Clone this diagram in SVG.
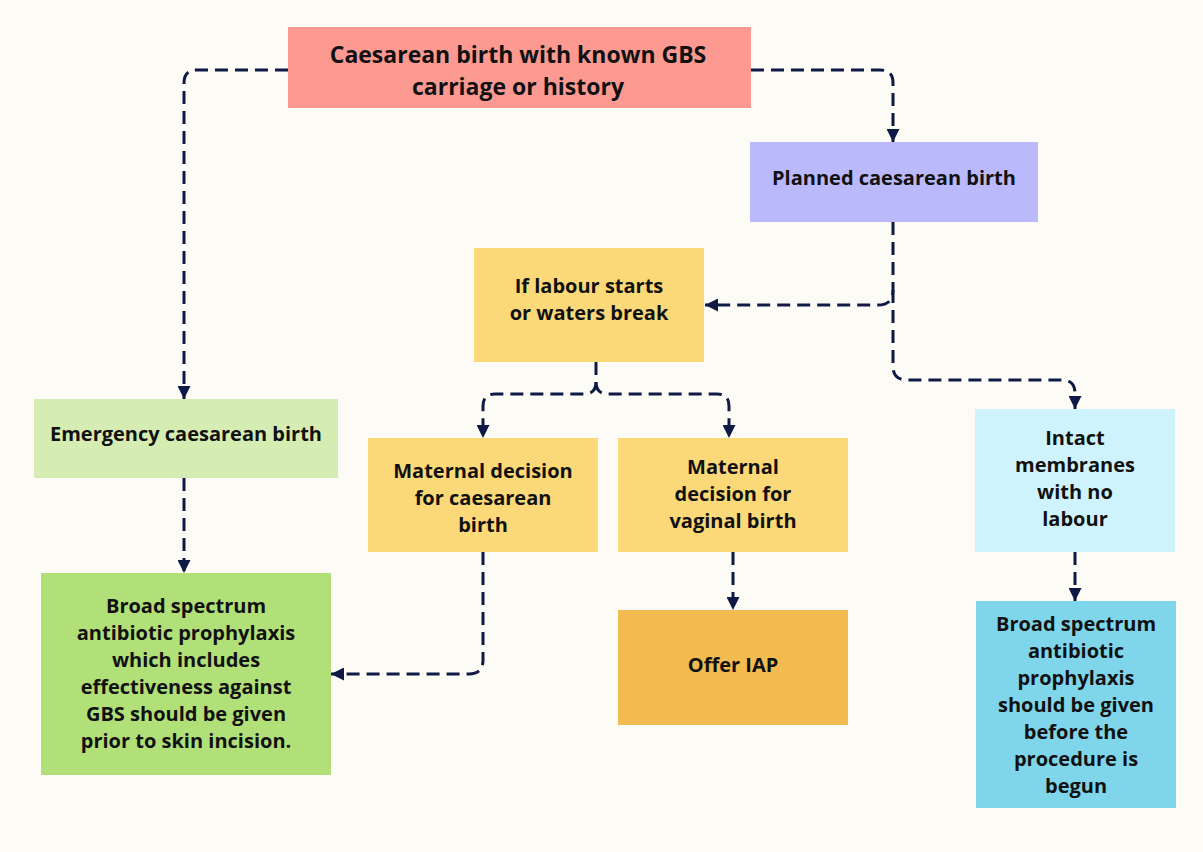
<svg xmlns="http://www.w3.org/2000/svg" width="1203" height="852" viewBox="0 0 1203 852">
  <defs>
    <marker id="arrow" viewBox="0 0 10 10" refX="10" refY="5" markerWidth="13" markerHeight="13" markerUnits="userSpaceOnUse" orient="auto">
      <path d="M0,0 L10,5 L0,10 z" fill="#0E1A45"/>
    </marker>
    <style>
      .bg { fill: #FDFBF6; }
      .box { stroke: none; }
      .lbl { font-family: "Open Sans", Lato, "Liberation Sans", sans-serif; font-weight: 700; fill: #111; text-anchor: middle; font-size: 20px; }
      .big { font-size: 23px; }
      .link { fill: none; stroke: #0E1A45; stroke-width: 3; stroke-dasharray: 13 7; }
      .arr { marker-end: url(#arrow); }
    </style>
  </defs>
  <rect class="bg" x="0" y="0" width="1203" height="852"/>

  <!-- connectors -->
  <g id="connectors">
    <path class="link arr" d="M288,70 H197 Q184,70 184,83 V399"/>
    <path class="link arr" d="M751,70 H880 Q893,70 893,83 V142"/>
    <path class="link arr" d="M893,222 V290 Q893,305 878,305 H705"/>
    <path class="link arr" d="M893,290 V366 Q893,380 907,380 H1062 Q1075,380 1075,393 V409"/>
    <path class="link arr" d="M596,362 V382 Q596,394 584,394 H495 Q483,394 483,406 V438"/>
    <path class="link arr" d="M596,382 Q596,394 608,394 H717 Q729,394 729,406 V438"/>
    <path class="link arr" d="M483,552 V660 Q483,674 469,674 H331"/>
    <path class="link arr" d="M184,478 V573"/>
    <path class="link arr" d="M733,552 V610"/>
    <path class="link arr" d="M1075,552 V601"/>
  </g>

  <g id="start">
    <rect class="box" x="288" y="27" width="463" height="81" fill="#FC9A92"/>
    <text class="lbl big" x="518" y="63">Caesarean birth with known GBS</text>
    <text class="lbl big" x="518" y="95">carriage or history</text>
  </g>

  <g id="planned">
    <rect class="box" x="750" y="142" width="288" height="80" fill="#BAB9FC"/>
    <text class="lbl" x="894" y="185">Planned caesarean birth</text>
  </g>

  <g id="labour">
    <rect class="box" x="474" y="248" width="230" height="114" fill="#FCD978"/>
    <text class="lbl" x="589" y="293">If labour starts</text>
    <text class="lbl" x="589" y="320">or waters break</text>
  </g>

  <g id="emergency">
    <rect class="box" x="34" y="399" width="304" height="79" fill="#D5EDB2"/>
    <text class="lbl" x="186" y="441">Emergency caesarean birth</text>
  </g>

  <g id="prophylaxis-emergency">
    <rect class="box" x="41" y="573" width="290" height="202" fill="#B1DF78"/>
    <text class="lbl" x="186" y="613">Broad spectrum</text>
    <text class="lbl" x="186" y="640">antibiotic prophylaxis</text>
    <text class="lbl" x="186" y="667">which includes</text>
    <text class="lbl" x="186" y="694">effectiveness against</text>
    <text class="lbl" x="186" y="721">GBS should be given</text>
    <text class="lbl" x="186" y="748">prior to skin incision.</text>
  </g>

  <g id="maternal-caesarean">
    <rect class="box" x="368" y="438" width="230" height="114" fill="#FCD978"/>
    <text class="lbl" x="483" y="478">Maternal decision</text>
    <text class="lbl" x="483" y="505">for caesarean</text>
    <text class="lbl" x="483" y="532">birth</text>
  </g>

  <g id="maternal-vaginal">
    <rect class="box" x="618" y="438" width="230" height="114" fill="#FCD978"/>
    <text class="lbl" x="733" y="474">Maternal</text>
    <text class="lbl" x="733" y="501">decision for</text>
    <text class="lbl" x="733" y="528">vaginal birth</text>
  </g>

  <g id="offer-iap">
    <rect class="box" x="618" y="610" width="230" height="115" fill="#F3BB50"/>
    <text class="lbl" x="733" y="672">Offer IAP</text>
  </g>

  <g id="intact">
    <rect class="box" x="975" y="409" width="200" height="143" fill="#CFF3FC"/>
    <text class="lbl" x="1075" y="445">Intact</text>
    <text class="lbl" x="1075" y="472">membranes</text>
    <text class="lbl" x="1075" y="499">with no</text>
    <text class="lbl" x="1075" y="526">labour</text>
  </g>

  <g id="prophylaxis-planned">
    <rect class="box" x="976" y="601" width="200" height="207" fill="#7FD5EA"/>
    <text class="lbl" x="1076" y="631">Broad spectrum</text>
    <text class="lbl" x="1076" y="658">antibiotic</text>
    <text class="lbl" x="1076" y="685">prophylaxis</text>
    <text class="lbl" x="1076" y="712">should be given</text>
    <text class="lbl" x="1076" y="739">before the</text>
    <text class="lbl" x="1076" y="766">procedure is</text>
    <text class="lbl" x="1076" y="793">begun</text>
  </g>
</svg>
